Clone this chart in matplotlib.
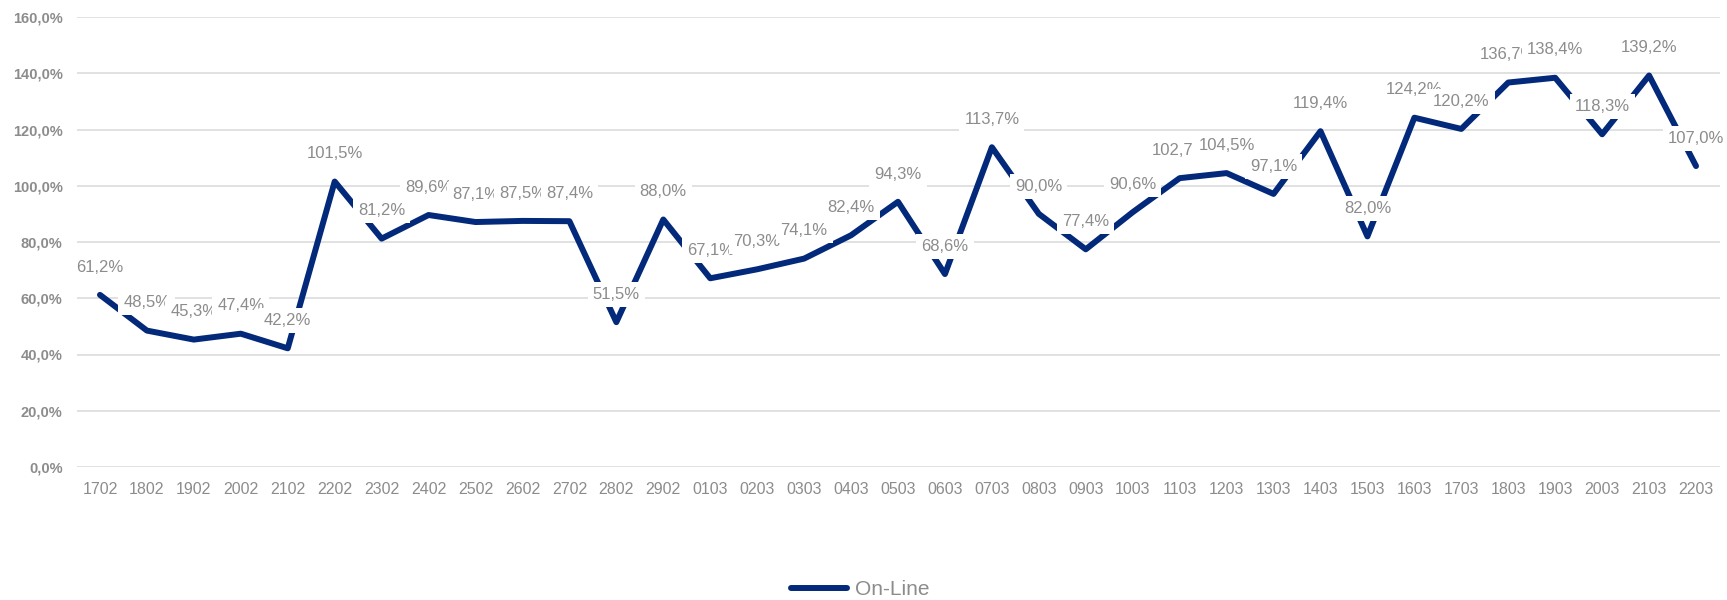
import matplotlib
matplotlib.use("Agg")
import matplotlib.pyplot as plt
from matplotlib.ticker import FuncFormatter

plt.rcParams['font.family'] = ['Liberation Sans', 'DejaVu Sans']

categories = ["1702", "1802", "1902", "2002", "2102", "2202", "2302", "2402", "2502",
              "2602", "2702", "2802", "2902", "0103", "0203", "0303", "0403", "0503",
              "0603", "0703", "0803", "0903", "1003", "1103", "1203", "1303", "1403",
              "1503", "1603", "1703", "1803", "1903", "2003", "2103", "2203"]
online = [61.2, 48.5, 45.3, 47.4, 42.2, 101.5, 81.2, 89.6, 87.1, 87.5, 87.4, 51.5,
          88.0, 67.1, 70.3, 74.1, 82.4, 94.3, 68.6, 113.7, 90.0, 77.4, 90.6, 102.7,
          104.5, 97.1, 119.4, 82.0, 124.2, 120.2, 136.7, 138.4, 118.3, 139.2, 107.0]
series_name = "On-Line"
y_ticks = [0, 20, 40, 60, 80, 100, 120, 140, 160]

LINE_COLOR = "#03297a"
TEXT_GRAY = "#8c8c8c"

fig = plt.figure(figsize=(17.27, 6.0), dpi=100)
ax = fig.add_axes([76.5 / 1727, 1 - 467 / 600, (1719.5 - 76.5) / 1727, (467 - 17) / 600])

x = list(range(len(categories)))
ax.plot(x, online, color=LINE_COLOR, lw=4.3, solid_joinstyle='round',
        solid_capstyle='round', zorder=2, label=series_name)

for i, v in enumerate(online):
    ax.annotate(f"{v:.1f}%".replace('.', ','), (i, v), xytext=(0, 20),
                textcoords='offset points', ha='center', va='center',
                fontsize=12, color=TEXT_GRAY, zorder=3 + i,
                bbox=dict(boxstyle='square,pad=0.3', fc='white', ec='none'))

ax.set_xlim(-0.5, len(categories) - 0.5)
ax.set_ylim(0, 160)
ax.set_yticks(y_ticks)
ax.yaxis.set_major_formatter(FuncFormatter(lambda v, p: f"{v:.1f}%".replace('.', ',')))
ax.set_xticks(x)
ax.set_xticklabels(categories)

ax.grid(axis='y', color='#d9d9d9', lw=1.1, zorder=0)
ax.set_axisbelow(True)
for s in ax.spines.values():
    s.set_visible(False)
ax.tick_params(axis='y', length=0, pad=10, labelsize=10.5, labelcolor=TEXT_GRAY)
ax.tick_params(axis='x', length=0, pad=11, labelsize=11.5, labelcolor=TEXT_GRAY)
for t in ax.get_yticklabels():
    t.set_fontweight('bold')

fig.legend(loc='center', bbox_to_anchor=(0.498, 0.017), frameon=False,
           fontsize=15, labelcolor=TEXT_GRAY, handlelength=2.7, handletextpad=0.4)

fig.savefig("out.png", dpi=100)
